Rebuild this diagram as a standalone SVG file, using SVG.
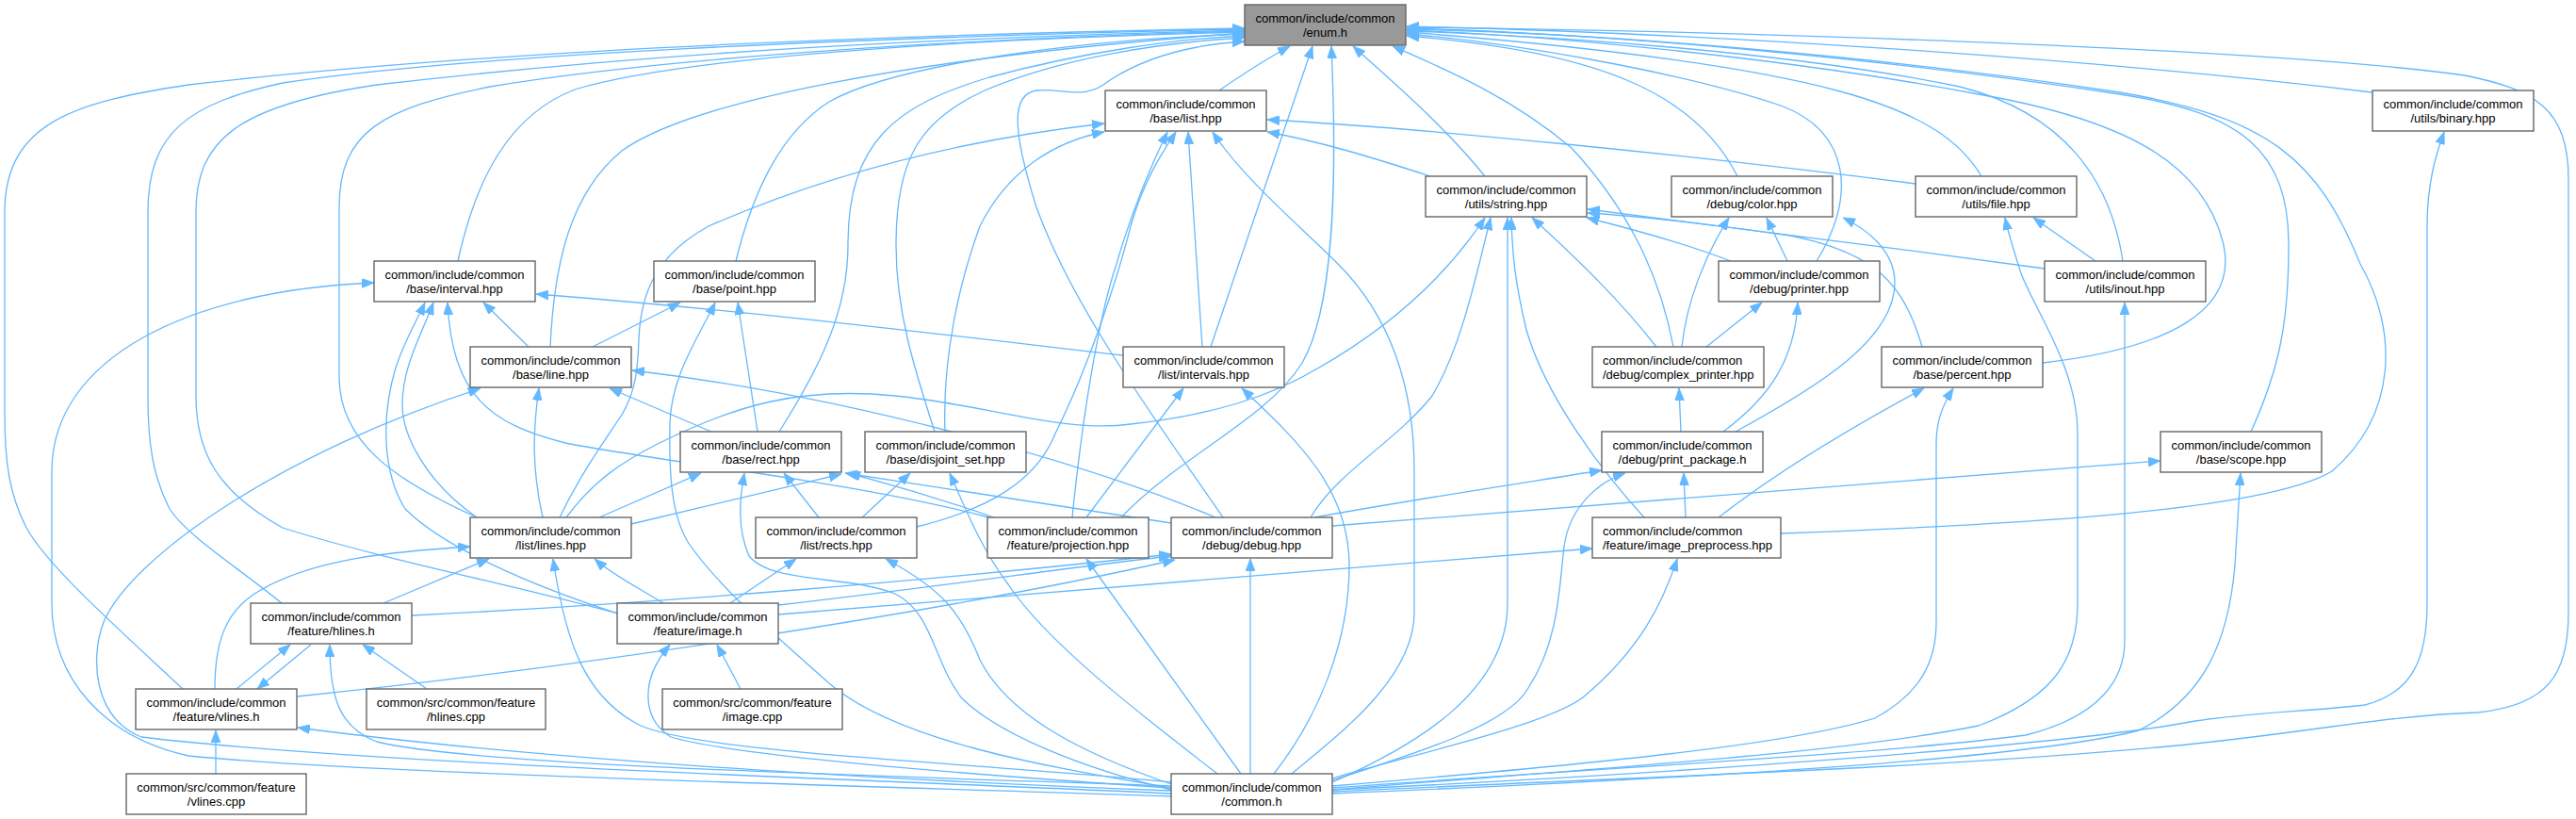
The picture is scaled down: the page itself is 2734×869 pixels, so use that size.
<svg xmlns="http://www.w3.org/2000/svg" width="2734" height="869" viewBox="0 0 2734 869">
<style>
.bg{fill:#fff}
.n rect{fill:#fff;stroke:#666;stroke-width:1.4}
.n.root rect{fill:#999}
.n text{font-family:"Liberation Sans",Arial,sans-serif;font-size:13px;fill:#000;text-anchor:middle}
.n text.l{text-anchor:start}
.e path{fill:none;stroke:#63b8ff;stroke-width:1.3;marker-end:url(#ah)}
</style>
<defs>
<marker id="ah" viewBox="0 0 13 10" refX="13" refY="5" markerWidth="13" markerHeight="10" markerUnits="userSpaceOnUse" orient="auto">
<path d="M0,0 L13,5 L0,10 z" fill="#63b8ff" stroke="#63b8ff" stroke-width="0.8"/>
</marker>
</defs>
<rect class="bg" x="0" y="0" width="2734" height="869"/>
<g id="edges" class="e">
<path d="M1294,96 C1320,78 1345,62 1369,49"/>
<path d="M2518,98 C2200,60 1800,35 1493,28"/>
<path d="M1576,187 C1530,130 1470,80 1436,49"/>
<path d="M1844,187 C1800,100 1700,55 1493,38"/>
<path d="M2103,187 C2060,115 1950,70 1493,34"/>
<path d="M1928,277 C1970,210 1965,140 1890,112 C1780,75 1600,45 1493,36"/>
<path d="M2253,277 C2240,190 2190,120 2080,92 C1900,55 1650,38 1493,33"/>
<path d="M2168,385 C2300,370 2375,330 2360,260 C2340,175 2260,128 2100,100 C1900,62 1650,38 1493,32"/>
<path d="M2389,458 C2420,390 2429,340 2429,260 C2429,160 2380,120 2250,100 C2000,62 1700,35 1493,30"/>
<path d="M1890,566 C2100,558 2400,545 2475,500 C2545,440 2545,350 2505,280 C2460,170 2410,125 2250,98 C2000,60 1700,35 1493,31"/>
<path d="M1414,840 C1800,822 2050,815 2300,792 C2450,778 2520,760 2630,756 C2705,748 2726,715 2726,650 L2726,190 C2726,115 2690,95 2616,80 C2400,50 1800,32 1493,29"/>
<path d="M1776,368 C1765,310 1740,235 1668,157 C1600,100 1530,72 1478,49"/>
<path d="M1285,368 L1393,49"/>
<path d="M1190,549 C1250,485 1345,445 1382,385 C1420,320 1418,160 1413,49"/>
<path d="M1298,549 C1230,450 1140,330 1100,220 C1075,140 1072,100 1100,96 C1130,93 1150,108 1178,85 C1220,58 1270,47 1321,44"/>
<path d="M827,458 C870,390 900,330 900,260 C900,150 950,112 1050,82 C1150,55 1250,41 1321,38"/>
<path d="M992,458 C970,390 951,330 951,260 C951,170 975,128 1045,96 C1125,62 1230,45 1321,40"/>
<path d="M781,277 C800,200 830,140 880,108 C950,68 1150,42 1321,36"/>
<path d="M584,368 C588,280 605,205 660,160 C730,110 950,62 1321,35"/>
<path d="M486,277 C505,190 540,122 610,95 C720,62 1000,42 1321,34"/>
<path d="M506,549 C420,510 360,470 360,400 L360,220 C360,140 405,115 520,92 C700,62 1000,42 1321,33"/>
<path d="M656,651 C550,622 400,592 300,560 C232,522 208,482 208,420 L208,225 C208,150 250,112 400,90 C700,55 1000,40 1321,32"/>
<path d="M299,640 C250,600 200,570 180,540 C162,505 157,470 157,420 L157,225 C157,140 200,110 300,88 C500,58 900,40 1321,31"/>
<path d="M194,731 C120,662 50,600 28,560 C10,525 5,490 5,440 L5,225 C5,130 80,108 200,90 C500,55 900,38 1321,30"/>
<path d="M1518,187 C1450,165 1400,150 1345,140"/>
<path d="M2033,195 C1800,165 1500,135 1345,127"/>
<path d="M1276,368 C1272,300 1266,220 1261,140"/>
<path d="M1138,549 C1150,430 1168,330 1185,280 C1200,228 1222,175 1239,140"/>
<path d="M973,559 C1050,540 1100,510 1120,460 C1160,380 1190,280 1200,240 C1214,190 1235,160 1248,140"/>
<path d="M1003,458 C1000,380 1018,300 1040,240 C1070,180 1120,150 1172,140"/>
<path d="M594,549 C615,505 640,470 660,440 C675,415 677,390 678,360 C680,310 697,270 752,240 C900,175 1050,145 1172,131"/>
<path d="M1371,821 C1420,780 1501,720 1501,650 L1501,500 C1501,400 1470,330 1420,280 C1380,240 1320,190 1287,140"/>
<path d="M1352,821 C1400,760 1432,680 1432,600 C1432,520 1380,470 1318,412"/>
<path d="M1837,277 C1780,255 1720,240 1684,231"/>
<path d="M2170,285 C2000,262 1800,236 1685,222"/>
<path d="M2040,368 C2020,300 1990,268 1900,250 C1800,236 1740,229 1685,226"/>
<path d="M1758,368 C1720,320 1680,280 1626,231"/>
<path d="M1391,549 C1420,500 1480,470 1520,420 C1550,370 1565,300 1582,231"/>
<path d="M601,549 C630,510 660,490 700,470 C780,430 850,410 950,420 C1050,430 1130,460 1200,450 C1290,440 1350,420 1400,390 C1470,350 1530,300 1576,231"/>
<path d="M1745,549 C1700,500 1640,420 1620,350 C1608,300 1605,270 1604,231"/>
<path d="M1414,830 C1500,792 1600,735 1600,640 L1600,231"/>
<path d="M1897,277 L1875,231"/>
<path d="M1785,368 C1790,320 1810,270 1835,231"/>
<path d="M1842,458 C1930,410 2011,360 2011,300 C2011,268 1985,245 1956,231"/>
<path d="M1811,368 L1870,321"/>
<path d="M1829,458 C1880,420 1905,380 1908,321"/>
<path d="M2224,277 L2158,231"/>
<path d="M1414,838 C1700,815 1950,800 2100,770 C2180,740 2205,700 2205,640 L2205,460 C2205,390 2160,330 2145,290 C2138,268 2132,250 2128,231"/>
<path d="M1414,836 C1700,815 2000,800 2150,780 C2230,760 2255,720 2255,680 L2255,321"/>
<path d="M1414,834 C1700,810 1900,790 1990,762 C2040,735 2055,700 2055,660 L2055,470 C2055,445 2063,428 2073,412"/>
<path d="M1414,842 C1800,826 2150,806 2270,775 C2340,740 2365,680 2372,600 L2378,502"/>
<path d="M1414,838 C1800,820 2200,790 2330,765 C2400,755 2450,755 2510,748 C2560,735 2576,700 2576,640 L2576,240 C2576,195 2585,165 2594,140"/>
<path d="M1414,826 C1500,800 1640,770 1680,740 C1740,690 1765,640 1780,593"/>
<path d="M1414,828 C1500,800 1600,770 1622,730 C1655,680 1655,620 1660,580 C1666,535 1700,510 1725,502"/>
<path d="M1327,821 L1327,593"/>
<path d="M1317,821 L1153,593"/>
<path d="M1292,821 C1200,750 1110,680 1070,620 C1040,580 1025,540 1008,502"/>
<path d="M1243,832 C1150,800 1070,760 1040,700 C1020,650 1000,625 940,593"/>
<path d="M1243,838 C1150,815 1060,780 1020,740 C990,700 990,650 950,630 C900,610 820,620 795,590 C782,560 785,530 790,502"/>
<path d="M1243,836 C1100,812 950,785 880,725 C820,672 760,620 730,575 C712,545 710,500 711,450 C712,400 740,360 759,321"/>
<path d="M1243,830 C1050,810 750,800 680,770 C620,740 600,680 587,593"/>
<path d="M1243,842 C1000,830 400,812 150,782 C100,762 95,700 110,660 C140,590 300,480 510,412"/>
<path d="M1243,845 C1000,836 400,822 200,802 C110,782 55,720 55,640 L55,500 C55,380 200,308 397,300"/>
<path d="M1243,839 C1000,830 600,810 316,772"/>
<path d="M1243,834 C900,822 500,812 400,787 C360,772 350,740 350,684"/>
<path d="M1243,836 C1000,820 780,802 712,782 C680,762 680,720 711,684"/>
<path d="M561,368 L513,321"/>
<path d="M629,368 L722,321"/>
<path d="M1192,377 C1000,355 800,330 569,312"/>
<path d="M1050,549 C900,510 700,490 600,470 C520,450 480,420 475,321"/>
<path d="M506,549 C450,510 427,460 427,430 C427,390 445,360 460,321"/>
<path d="M656,651 C560,620 470,580 430,540 C405,500 405,440 420,390 C430,360 440,345 451,321"/>
<path d="M755,458 L647,412"/>
<path d="M576,549 C565,500 565,460 572,412"/>
<path d="M1290,549 C1150,490 900,420 671,393"/>
<path d="M804,458 L783,321"/>
<path d="M636,549 L744,502"/>
<path d="M670,556 L893,503"/>
<path d="M869,549 L832,502"/>
<path d="M1243,555 C1100,532 980,515 897,502"/>
<path d="M1055,549 C1000,530 950,515 900,502"/>
<path d="M915,549 L966,502"/>
<path d="M1153,549 L1256,412"/>
<path d="M1395,549 C1500,530 1600,515 1700,499"/>
<path d="M1414,558 C1800,530 2100,505 2293,489"/>
<path d="M1784,458 L1782,412"/>
<path d="M1789,549 L1787,502"/>
<path d="M1824,549 C1900,490 1990,440 2042,412"/>
<path d="M826,652 C1100,630 1400,605 1690,582"/>
<path d="M826,642 C1000,622 1150,600 1243,590"/>
<path d="M437,653 C700,640 1000,615 1243,588"/>
<path d="M315,739 C600,710 1000,650 1247,594"/>
<path d="M775,640 L845,593"/>
<path d="M704,640 C680,625 650,610 631,593"/>
<path d="M407,640 L519,593"/>
<path d="M228,731 C228,680 240,650 270,630 C330,592 420,585 499,580"/>
<path d="M251,731 L308,684"/>
<path d="M330,684 L273,731"/>
<path d="M453,731 L385,684"/>
<path d="M786,731 L761,684"/>
<path d="M229,821 L229,775"/>
</g>
<g id="n_enum" class="n root"><rect x="1321" y="5" width="171" height="43"/><text x="1406.5" y="24">common/include/common</text><text x="1406.5" y="39">/enum.h</text></g>
<g id="n_list" class="n"><rect x="1173" y="96" width="171" height="43"/><text x="1258.5" y="115">common/include/common</text><text x="1258.5" y="130">/base/list.hpp</text></g>
<g id="n_binary" class="n"><rect x="2518" y="96" width="171" height="43"/><text x="2603.5" y="115">common/include/common</text><text x="2603.5" y="130">/utils/binary.hpp</text></g>
<g id="n_string" class="n"><rect x="1513" y="187" width="171" height="43"/><text x="1598.5" y="206">common/include/common</text><text x="1598.5" y="221">/utils/string.hpp</text></g>
<g id="n_color" class="n"><rect x="1774" y="187" width="171" height="43"/><text x="1859.5" y="206">common/include/common</text><text x="1859.5" y="221">/debug/color.hpp</text></g>
<g id="n_file" class="n"><rect x="2033" y="187" width="171" height="43"/><text x="2118.5" y="206">common/include/common</text><text x="2118.5" y="221">/utils/file.hpp</text></g>
<g id="n_interval" class="n"><rect x="397" y="277" width="171" height="43"/><text x="482.5" y="296">common/include/common</text><text x="482.5" y="311">/base/interval.hpp</text></g>
<g id="n_point" class="n"><rect x="694" y="277" width="171" height="43"/><text x="779.5" y="296">common/include/common</text><text x="779.5" y="311">/base/point.hpp</text></g>
<g id="n_printer" class="n"><rect x="1824" y="277" width="171" height="43"/><text x="1909.5" y="296">common/include/common</text><text x="1909.5" y="311">/debug/printer.hpp</text></g>
<g id="n_inout" class="n"><rect x="2170" y="277" width="171" height="43"/><text x="2255.5" y="296">common/include/common</text><text x="2255.5" y="311">/utils/inout.hpp</text></g>
<g id="n_line" class="n"><rect x="499" y="368" width="171" height="43"/><text x="584.5" y="387">common/include/common</text><text x="584.5" y="402">/base/line.hpp</text></g>
<g id="n_intervals" class="n"><rect x="1192" y="368" width="171" height="43"/><text x="1277.5" y="387">common/include/common</text><text x="1277.5" y="402">/list/intervals.hpp</text></g>
<g id="n_complex" class="n"><rect x="1690" y="368" width="182" height="43"/><text class="l" x="1701" y="387">common/include/common</text><text class="l" x="1701" y="402">/debug/complex_printer.hpp</text></g>
<g id="n_percent" class="n"><rect x="1997" y="368" width="171" height="43"/><text x="2082.5" y="387">common/include/common</text><text x="2082.5" y="402">/base/percent.hpp</text></g>
<g id="n_rect" class="n"><rect x="722" y="458" width="171" height="43"/><text x="807.5" y="477">common/include/common</text><text x="807.5" y="492">/base/rect.hpp</text></g>
<g id="n_disjoint" class="n"><rect x="918" y="458" width="171" height="43"/><text x="1003.5" y="477">common/include/common</text><text x="1003.5" y="492">/base/disjoint_set.hpp</text></g>
<g id="n_printpkg" class="n"><rect x="1700" y="458" width="171" height="43"/><text x="1785.5" y="477">common/include/common</text><text x="1785.5" y="492">/debug/print_package.h</text></g>
<g id="n_scope" class="n"><rect x="2293" y="458" width="171" height="43"/><text x="2378.5" y="477">common/include/common</text><text x="2378.5" y="492">/base/scope.hpp</text></g>
<g id="n_lines" class="n"><rect x="499" y="549" width="171" height="43"/><text x="584.5" y="568">common/include/common</text><text x="584.5" y="583">/list/lines.hpp</text></g>
<g id="n_rects" class="n"><rect x="802" y="549" width="171" height="43"/><text x="887.5" y="568">common/include/common</text><text x="887.5" y="583">/list/rects.hpp</text></g>
<g id="n_projection" class="n"><rect x="1048" y="549" width="171" height="43"/><text x="1133.5" y="568">common/include/common</text><text x="1133.5" y="583">/feature/projection.hpp</text></g>
<g id="n_debug" class="n"><rect x="1243" y="549" width="171" height="43"/><text x="1328.5" y="568">common/include/common</text><text x="1328.5" y="583">/debug/debug.hpp</text></g>
<g id="n_imgpre" class="n"><rect x="1690" y="549" width="200" height="43"/><text class="l" x="1701" y="568">common/include/common</text><text class="l" x="1701" y="583">/feature/image_preprocess.hpp</text></g>
<g id="n_hlines" class="n"><rect x="266" y="640" width="171" height="43"/><text x="351.5" y="659">common/include/common</text><text x="351.5" y="674">/feature/hlines.h</text></g>
<g id="n_image" class="n"><rect x="655" y="640" width="171" height="43"/><text x="740.5" y="659">common/include/common</text><text x="740.5" y="674">/feature/image.h</text></g>
<g id="n_vlines" class="n"><rect x="144" y="731" width="171" height="43"/><text x="229.5" y="750">common/include/common</text><text x="229.5" y="765">/feature/vlines.h</text></g>
<g id="n_hlinescpp" class="n"><rect x="389" y="731" width="190" height="43"/><text x="484" y="750">common/src/common/feature</text><text x="484" y="765">/hlines.cpp</text></g>
<g id="n_imagecpp" class="n"><rect x="703" y="731" width="191" height="43"/><text x="798.5" y="750">common/src/common/feature</text><text x="798.5" y="765">/image.cpp</text></g>
<g id="n_vlinescpp" class="n"><rect x="134" y="821" width="191" height="43"/><text x="229.5" y="840">common/src/common/feature</text><text x="229.5" y="855">/vlines.cpp</text></g>
<g id="n_common" class="n"><rect x="1243" y="821" width="171" height="43"/><text x="1328.5" y="840">common/include/common</text><text x="1328.5" y="855">/common.h</text></g>
</svg>
